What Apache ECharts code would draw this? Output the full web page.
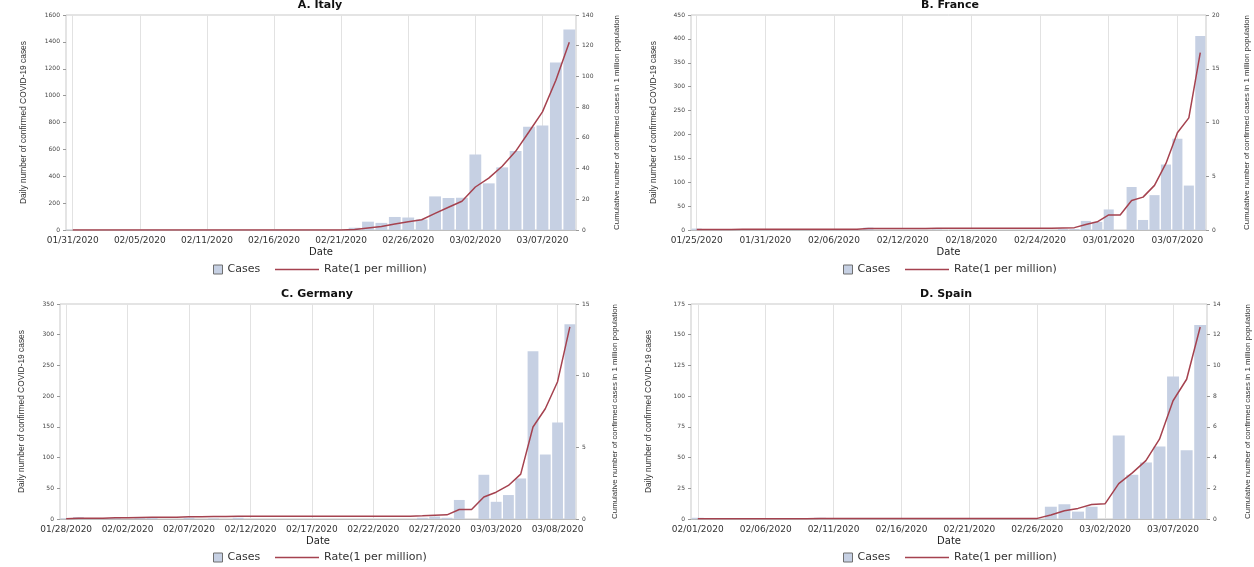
<!DOCTYPE html>
<html>
<head>
<meta charset="utf-8">
<title>COVID-19 daily cases and cumulative rate</title>
<script src="https://cdn.jsdelivr.net/npm/echarts@6/dist/echarts.min.js"></script>
<style>
  html, body { margin: 0; padding: 0; background: #fff; }
  #chart { width: 1254px; height: 567px; }
</style>
</head>
<body>
<div id="chart"></div>
<script>
// consecutive days as MM/DD/YYYY, leaving out the ones listed in skip
function days(start, n, skip) {
  var p = start.split("/");
  var t = Date.UTC(+p[2], +p[0] - 1, +p[1]);
  var out = [];
  while (out.length < n) {
    var d = new Date(t);
    var s = ("0" + (d.getUTCMonth() + 1)).slice(-2) + "/" + ("0" + d.getUTCDate()).slice(-2) + "/" + d.getUTCFullYear();
    if (!skip || skip.indexOf(s) < 0) out.push(s);
    t += 86400000;
  }
  return out;
}

var italyDates = days("01/31/2020", 38, ["02/06/2020"]);
var franceDates = days("01/25/2020", 45);
var germanyDates = days("01/28/2020", 42);
var spainDates = days("02/01/2020", 38);

var italyTicks = ["01/31/2020", "02/05/2020", "02/11/2020", "02/16/2020", "02/21/2020", "02/26/2020", "03/02/2020", "03/07/2020"];
var franceTicks = ["01/25/2020", "01/31/2020", "02/06/2020", "02/12/2020", "02/18/2020", "02/24/2020", "03/01/2020", "03/07/2020"];
var germanyTicks = ["01/28/2020", "02/02/2020", "02/07/2020", "02/12/2020", "02/17/2020", "02/22/2020", "02/27/2020", "03/03/2020", "03/08/2020"];
var spainTicks = ["02/01/2020", "02/06/2020", "02/11/2020", "02/16/2020", "02/21/2020", "02/26/2020", "03/02/2020", "03/07/2020"];

// daily confirmed cases
var italyCases = [2, 0, 0, 0, 0, 0, 1, 0, 0, 0, 0, 0, 0, 0, 0, 0, 0, 0, 0, 0, 0,
  17, 62, 53, 97, 93, 78, 250, 238, 240, 561, 347, 466, 587, 769, 778, 1247, 1492];
var franceCases = [3, 0, 0, 0, 1, 0, 1, 0, 0, 0, 0, 0, 0, 0, 0, 5, 0, 0, 0, 0, 0, 1,
  0, 0, 0, 0, 0, 0, 0, 0, 0, 0, 2, 2, 19, 17, 43, 0, 90, 21, 73, 137, 191, 93, 406];
var germanyCases = [1, 3, 0, 1, 2, 0, 2, 2, 0, 0, 2, 0, 1, 0, 2, 0, 0, 0, 0, 0, 0,
  0, 0, 0, 0, 0, 0, 0, 0, 2, 4, 2, 31, 0, 72, 28, 39, 66, 273, 105, 157, 317];
var spainCases = [1, 0, 0, 0, 0, 0, 0, 0, 0, 1, 0, 0, 0, 0, 0, 0, 0, 0, 0, 0, 0,
  0, 0, 0, 0, 0, 10, 12, 6, 10, 0, 68, 36, 46, 59, 116, 56, 158];

// cumulative cases per 1 million population
var italyRate = [0.03, 0.03, 0.03, 0.03, 0.03, 0.03, 0.05, 0.05, 0.05, 0.05, 0.05, 0.05, 0.05, 0.05, 0.05,
  0.05, 0.05, 0.05, 0.05, 0.05, 0.05, 0.33, 1.36, 2.24, 3.84, 5.38, 6.68, 10.8, 14.8, 18.7, 28.0, 33.8,
  41.5, 51.2, 64.0, 76.9, 97.5, 122.2];
var franceRate = [0.04, 0.04, 0.04, 0.04, 0.06, 0.06, 0.07, 0.07, 0.07, 0.07, 0.07, 0.07, 0.07, 0.07, 0.07,
  0.15, 0.15, 0.15, 0.15, 0.15, 0.15, 0.16, 0.16, 0.16, 0.16, 0.16, 0.16, 0.16, 0.16, 0.16, 0.16, 0.16,
  0.19, 0.22, 0.51, 0.76, 1.40, 1.40, 2.75, 3.06, 4.15, 6.19, 9.04, 10.43, 16.49];
var germanyRate = [0.01, 0.05, 0.05, 0.06, 0.08, 0.08, 0.11, 0.13, 0.13, 0.13, 0.16, 0.16, 0.17, 0.17, 0.19,
  0.19, 0.19, 0.19, 0.19, 0.19, 0.19, 0.19, 0.19, 0.19, 0.19, 0.19, 0.19, 0.19, 0.19, 0.22, 0.27, 0.29,
  0.66, 0.66, 1.53, 1.87, 2.34, 3.13, 6.42, 7.69, 9.58, 13.4];
var spainRate = [0.02, 0.02, 0.02, 0.02, 0.02, 0.02, 0.02, 0.02, 0.02, 0.04, 0.04, 0.04, 0.04, 0.04, 0.04,
  0.04, 0.04, 0.04, 0.04, 0.04, 0.04, 0.04, 0.04, 0.04, 0.04, 0.04, 0.26, 0.54, 0.69, 0.95, 1.0, 2.3,
  3.0, 3.8, 5.2, 7.7, 9.1, 12.5];

var barColor = "#c6d0e3";
var lineColor = "#a5424f";
var textFont = "'DejaVu Sans', sans-serif";
var nameFont = "'Liberation Sans', sans-serif";

var panels = [
  { title: "A. Italy", dates: italyDates, ticks: italyTicks, cases: italyCases, rate: italyRate,
    leftMax: 1600, leftStep: 200, rightMax: 140, rightStep: 20,
    left: 66, top: 15, width: 510, titleX: 320, legendX: 213, legendY: 264, gapL: 38, gapR: 37 },
  { title: "B. France", dates: franceDates, ticks: franceTicks, cases: franceCases, rate: franceRate,
    leftMax: 450, leftStep: 50, rightMax: 20, rightStep: 5,
    left: 691, top: 15, width: 515, titleX: 950, legendX: 843, legendY: 264, gapL: 33, gapR: 37 },
  { title: "C. Germany", dates: germanyDates, ticks: germanyTicks, cases: germanyCases, rate: germanyRate,
    leftMax: 350, leftStep: 50, rightMax: 15, rightStep: 5,
    left: 60, top: 304, width: 516, titleX: 317, legendX: 213, legendY: 552, gapL: 34, gapR: 35 },
  { title: "D. Spain", dates: spainDates, ticks: spainTicks, cases: spainCases, rate: spainRate,
    leftMax: 175, leftStep: 25, rightMax: 14, rightStep: 2,
    left: 691, top: 304, width: 516, titleX: 946, legendX: 843, legendY: 552, gapL: 38, gapR: 37 }
];

var chart = echarts.init(document.getElementById("chart"));

var option = {
  animation: false,
  backgroundColor: "#fff",
  title: [],
  legend: [],
  grid: [],
  xAxis: [],
  yAxis: [],
  series: []
};

panels.forEach(function (p, i) {
  var showTick = function (idx, val) { return p.ticks.indexOf(val) >= 0; };

  option.title.push({
    text: p.title, left: p.titleX, top: p.top - 15, padding: 0, textAlign: "center",
    textStyle: { fontFamily: textFont, fontSize: 11, fontWeight: "bold", color: "#111" }
  });

  option.legend.push({
    left: p.legendX, top: p.legendY, padding: 0, itemWidth: 9, itemHeight: 9,
    data: [{ name: "Cases", icon: "rect", itemStyle: { color: barColor, borderColor: "#6f6f6f", borderWidth: 1 } }],
    textStyle: { fontFamily: textFont, fontSize: 11, color: "#333" }
  });
  option.legend.push({
    left: p.legendX + 62, top: p.legendY, padding: 0, itemWidth: 44, itemHeight: 1.5,
    data: [{ name: "Rate(1 per million)", icon: "rect", itemStyle: { color: lineColor, borderWidth: 0 } }],
    textStyle: { fontFamily: textFont, fontSize: 11, color: "#333" }
  });

  option.grid.push({
    left: p.left, top: p.top, width: p.width, height: 215,
    containLabel: false, outerBoundsMode: "none",
    show: true, borderColor: "#c9c9c9", borderWidth: 1
  });

  option.xAxis.push({
    type: "category", gridIndex: i, data: p.dates,
    name: "Date", nameLocation: "middle", nameGap: 17,
    nameTextStyle: { fontFamily: textFont, fontSize: 10, color: "#222" },
    axisLine: { lineStyle: { color: "#bdbdbd" } },
    axisTick: { alignWithLabel: true, interval: showTick, length: 3, lineStyle: { color: "#999" } },
    axisLabel: { interval: showTick, fontFamily: textFont, fontSize: 9, color: "#333", margin: 6 },
    splitLine: { show: false }
  });

  option.yAxis.push({
    type: "value", gridIndex: i, position: "left", min: 0, max: p.leftMax, interval: p.leftStep,
    name: "Daily number of confirmed COVID-19 cases", nameLocation: "middle", nameRotate: 90, nameGap: p.gapL,
    nameTextStyle: { fontFamily: nameFont, fontSize: 8.4, color: "#333" },
    axisLine: { show: false },
    axisTick: { show: true, length: 3, lineStyle: { color: "#999" } },
    axisLabel: { fontFamily: textFont, fontSize: 6, color: "#444", margin: 6, formatter: function (v) { return String(v); } },
    splitLine: { show: false }
  });
  option.yAxis.push({
    type: "value", gridIndex: i, position: "right", min: 0, max: p.rightMax, interval: p.rightStep,
    name: "Cumulative number of confirmed cases in 1 million population", nameLocation: "middle",
    nameRotate: 90, nameGap: p.gapR,
    nameTextStyle: { fontFamily: nameFont, fontSize: 7.9, color: "#333" },
    axisLine: { show: false },
    axisTick: { show: true, length: 3, lineStyle: { color: "#999" } },
    axisLabel: { fontFamily: textFont, fontSize: 6, color: "#444", margin: 6, formatter: function (v) { return String(v); } },
    splitLine: { show: false }
  });

  option.series.push({
    name: "Cases", type: "bar", xAxisIndex: i, yAxisIndex: 2 * i, data: p.cases,
    barCategoryGap: "12%", itemStyle: { color: barColor },
    markLine: {
      silent: true, z: 1, symbol: ["none", "none"], label: { show: false },
      lineStyle: { color: "#e2e2e2", width: 1, type: "solid" },
      data: p.ticks.map(function (d) { return { xAxis: d }; })
    }
  });
  option.series.push({
    name: "Rate(1 per million)", type: "line", xAxisIndex: i, yAxisIndex: 2 * i + 1, data: p.rate,
    symbol: "none", lineStyle: { color: lineColor, width: 1.5 }, itemStyle: { color: lineColor }
  });
});

chart.setOption(option);
</script>
</body>
</html>
